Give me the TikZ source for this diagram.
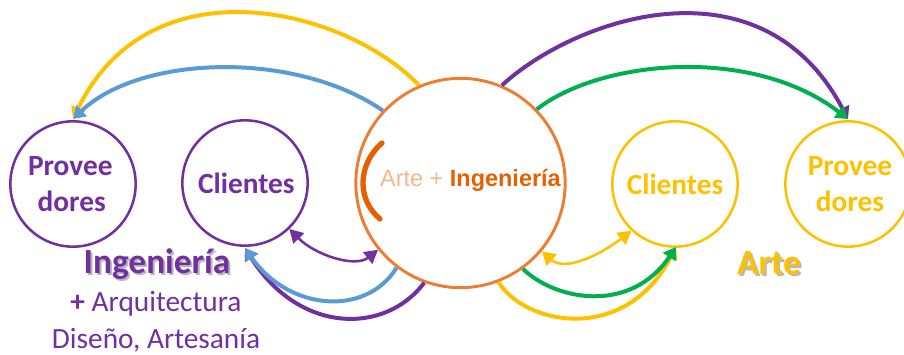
\documentclass[tikz,border=0pt]{standalone}
\usepackage{fontspec}
\setmainfont{Carlito}
\newfontfamily\heros{Liberation Sans}
\usetikzlibrary{arrows.meta}
\definecolor{cpurple}{HTML}{7030A0}
\definecolor{cyellow}{HTML}{FFC000}
\definecolor{cblue}{HTML}{5B9BD5}
\definecolor{cgreen}{HTML}{00B050}
\definecolor{corange}{HTML}{ED7D31}
\definecolor{dorange}{HTML}{E65F00}
\newcommand\softshadow[1]{\leavevmode\rlap{\kern1.5pt\raisebox{-1.5pt}{\color{black!28}#1}}#1}
\tikzset{
  x=0.75pt,y=-0.75pt,
  ring/.style={circle,draw=#1,line width=1.9pt,minimum size=94pt,inner sep=0pt,align=center,font=\fontsize{22pt}{26.5pt}\selectfont\bfseries,text=#1},
  thick arc/.style={draw=#1,line width=3pt,-{Triangle[length=9pt,width=11pt]}},
  thin arc/.style={draw=#1,line width=1.9pt,{Triangle[length=10pt,width=11pt]}-{Triangle[length=10pt,width=11pt]}},
  heading/.style={font=\fontsize{26.5pt}{30pt}\selectfont\bfseries,text=#1},
}
\begin{document}
\begin{tikzpicture}
\useasboundingbox (0,0) rectangle (904,354);
\node[ring=cpurple] (pl) at (73,184) {Provee\hspace*{4pt}\\dores\hspace*{2pt}};
\node[ring=cpurple] (cl) at (245,183) {\hspace*{2pt}Clientes};
\node[ring=cyellow] (cr) at (675,184) {Clientes};
\node[ring=cyellow] (pr) at (848,184) {\hspace*{3pt}Provee\\\hspace*{3pt}dores};
\node[circle,draw=corange,line width=2.2pt,minimum size=157pt,inner sep=0pt] (m) at (460.5,183) {};
\coordinate (plt) at (73,119);
\coordinate (prt) at (848,119);
\coordinate (clb) at (245,248);
\coordinate (crb) at (676,247);
\draw[thick arc=cyellow] (m.113) .. controls (345,8) and (150,-40) .. (plt);
\draw[thick arc=cblue] (m.137) .. controls (295,50) and (140,55) .. (plt);
\draw[thick arc=cpurple] (m.67) .. controls (575,18) and (761,-46) .. (prt);
\draw[thick arc=cgreen] (m.44) .. controls (600,60) and (752,45) .. (prt);
\draw[thick arc=cpurple] (m.-110.6) .. controls (385,335) and (299,334) .. (clb);
\draw[thick arc=cblue] (m.-127) .. controls (365,318) and (288,310) .. (clb);
\draw[thick arc=cyellow] (m.-69) .. controls (525,325) and (625,345) .. (crb);
\draw[thick arc=cgreen] (m.-54) .. controls (555,300) and (630,315) .. (crb);
\draw[thin arc=cpurple] (cl.-46) .. controls (315,255) and (355,268) .. (m.-141);
\draw[thin arc=cyellow] (m.-40) .. controls (565,272) and (600,255) .. (cr.-133);
\node[heading=cpurple] (ing) at (157,265) {\softshadow{Ingeniería}};
\node[heading=cyellow] (art) at (769,264) {\softshadow{Arte}};
\node[text=cpurple,font=\fontsize{22pt}{27.75pt}\selectfont,align=center] (sub) at (156,322) {\textbf{+} Arquitectura\\Diseño, Artesanía};
\draw[draw=dorange,line width=4pt,line cap=round] (382,143) .. controls (357,165) and (357,200) .. (380,219);
\node[font=\heros\fontsize{17.6pt}{20pt}\selectfont,text=dorange] (lab) at (470.5,180) {{\color{dorange!45}Arte + }\textbf{Ingeniería}};
\end{tikzpicture}
\end{document}
